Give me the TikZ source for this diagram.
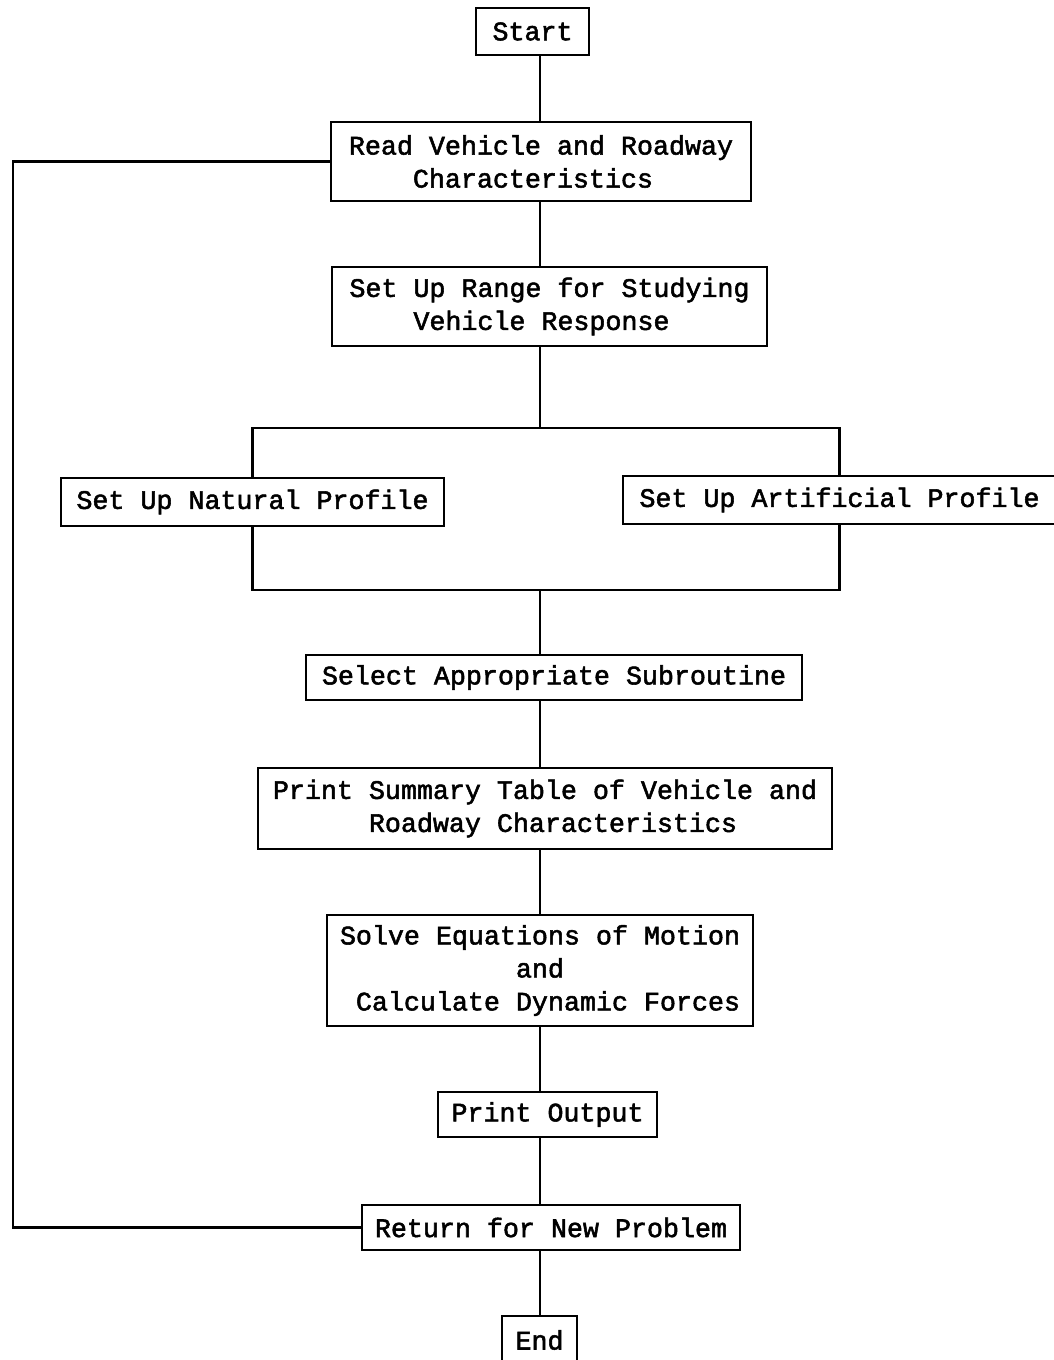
\documentclass[tikz,border=0pt]{standalone}
\usepackage{fontspec}
\newfontfamily\typewriter[FakeBold=2]{Liberation Mono}
% one typewriter character is 16pt wide at this size
\newcommand{\tab}[1]{\hspace*{#1\dimexpr 16pt\relax}}
\begin{document}
\begin{tikzpicture}[x=1pt,y=-1pt,
  box/.style={draw, line width=2.2pt, align=left, inner sep=0pt,
    font=\typewriter\fontsize{26.67pt}{33pt}\selectfont},
  link/.style={line width=2.2pt}]
\useasboundingbox (0,0) rectangle (1053,1360);

% program steps
\node[box, minimum width=113pt, minimum height=47pt] (start) at (532.5,31.5) {Start};
\node[box, minimum width=420pt, minimum height=79pt] (read) at (541,161.5)
  {Read Vehicle and Roadway\\\tab{4}Characteristics};
\node[box, minimum width=435pt, minimum height=79pt] (range) at (549.5,306.5)
  {Set Up Range for Studying\\\tab{4}Vehicle Response};
\node[box, minimum width=383pt, minimum height=48pt] (nat) at (252.5,502)
  {Set Up Natural Profile};
\node[box, minimum width=433pt, minimum height=48pt] (art) at (839.5,500)
  {Set Up Artificial Profile};
\node[box, minimum width=496pt, minimum height=45pt] (select) at (554,677.5)
  {Select Appropriate Subroutine};
\node[box, minimum width=574pt, minimum height=81pt] (summary) at (545,808.5)
  {Print Summary Table of Vehicle and\\\tab{6}Roadway Characteristics};
\node[box, minimum width=426pt, minimum height=111pt] (solve) at (540,970.5)
  {Solve Equations of Motion\\\tab{11}and\\\tab{1}Calculate Dynamic Forces};
\node[box, minimum width=219pt, minimum height=45pt] (output) at (547.5,1114.5)
  {Print Output};
\node[box, minimum width=378pt, minimum height=45pt] (ret) at (551,1227.5)
  {Return for New Problem};
\node[box, minimum width=75pt, minimum height=48pt] (end) at (539.5,1340)
  {End};

% main line of flow
\coordinate (spine) at (540,0);
\coordinate (split) at (540,428);
\coordinate (merge) at (540,590);
\coordinate (loopx) at (13,0);

\draw[link] (start.south -| spine) -- (read.north -| spine);
\draw[link] (read.south -| spine) -- (range.north -| spine);
\draw[link] (range.south -| spine) -- (split);
\draw[link] (nat.north) |- (split) -| (art.north);
\draw[link] (nat.south) |- (merge) -| (art.south);
\draw[link] (merge) -- (select.north -| merge);
\draw[link] (select.south -| spine) -- (summary.north -| spine);
\draw[link] (summary.south -| spine) -- (solve.north -| spine);
\draw[link] (solve.south -| spine) -- (output.north -| spine);
\draw[link] (output.south -| spine) -- (ret.north -| spine);
\draw[link] (ret.south -| spine) -- (end.north -| spine);

% loop back for a new problem
\draw[link] (ret.west) -| (loopx |- read.west) -- (read.west);
\end{tikzpicture}
\end{document}
